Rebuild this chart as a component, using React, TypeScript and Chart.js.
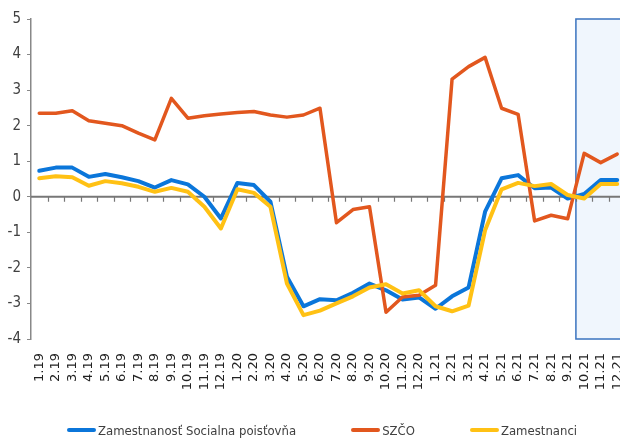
import React, { useEffect, useRef } from "react";
import { Chart, registerables } from "chart.js";

Chart.register(...registerables);

const months = [
  "1.19", "2.19", "3.19", "4.19", "5.19", "6.19", "7.19", "8.19", "9.19", "10.19", "11.19", "12.19",
  "1.20", "2.20", "3.20", "4.20", "5.20", "6.20", "7.20", "8.20", "9.20", "10.20", "11.20", "12.20",
  "1.21", "2.21", "3.21", "4.21", "5.21", "6.21", "7.21", "8.21", "9.21", "10.21", "11.21", "12.21",
];

const socialInsurance = [
  0.73, 0.82, 0.82, 0.56, 0.64, 0.55, 0.44, 0.26, 0.47, 0.35, 0.0, -0.61,
  0.39, 0.33, -0.14, -2.25, -3.08, -2.88, -2.91, -2.7, -2.44, -2.63, -2.89, -2.83,
  -3.15, -2.8, -2.55, -0.42, 0.52, 0.61, 0.24, 0.26, -0.05, 0.08, 0.47, 0.47,
];

const selfEmployed = [
  2.35, 2.35, 2.42, 2.14, 2.07, 2.0, 1.79, 1.6, 2.77, 2.21, 2.28, 2.33,
  2.37, 2.4, 2.3, 2.24, 2.3, 2.49, -0.73, -0.36, -0.28, -3.25, -2.82, -2.77,
  -2.49, 3.31, 3.66, 3.92, 2.49, 2.32, -0.68, -0.52, -0.62, 1.22, 0.96, 1.2,
];

const employees = [
  0.52, 0.58, 0.55, 0.31, 0.44, 0.38, 0.28, 0.14, 0.25, 0.14, -0.28, -0.89,
  0.21, 0.11, -0.28, -2.44, -3.33, -3.2, -3.0, -2.8, -2.55, -2.46, -2.72, -2.63,
  -3.08, -3.22, -3.06, -0.94, 0.21, 0.39, 0.3, 0.36, 0.05, -0.05, 0.36, 0.36,
];

const seriesNames = ["Zamestnanosť Socialna poisťovňa", "SZČO", "Zamestnanci"];
const seriesColors = ["#0B76DA", "#E2571E", "#FFC114"];

const yMin = -4;
const yMax = 5;
const yStep = 1;
const forecastStart = "10.21";

const NARROW = '"DejaVu Sans Condensed", "DejaVu Sans", sans-serif';

const backdropPlugin = {
  id: "backdrop",
  beforeDatasetsDraw(chart: any) {
    const { ctx, chartArea, scales } = chart;
    const x = scales.x;
    const y = scales.y;
    const half = (x.getPixelForValue(1) - x.getPixelForValue(0)) / 2;
    const idx = months.indexOf(forecastStart);
    const bx = x.getPixelForValue(idx) - half;
    const top = y.getPixelForValue(yMax);
    const bottom = y.getPixelForValue(yMin);
    const right = chartArea.right + 10;
    ctx.save();
    ctx.fillStyle = "#F0F6FD";
    ctx.fillRect(bx, top, right - bx, bottom - top);
    ctx.strokeStyle = "#3A73BF";
    ctx.lineWidth = 1.5;
    ctx.strokeRect(bx, top, right - bx, bottom - top);

    const y0 = y.getPixelForValue(0);
    ctx.strokeStyle = "#777777";
    ctx.lineWidth = 2;
    ctx.beginPath();
    ctx.moveTo(chartArea.left, y0);
    ctx.lineTo(chartArea.right, y0);
    ctx.stroke();

    ctx.lineWidth = 1.2;
    ctx.beginPath();
    for (let i = 1; i <= months.length; i++) {
      const tx = Math.round(x.getPixelForValue(i) - half) + 0.5;
      ctx.moveTo(tx, y0);
      ctx.lineTo(tx, y0 + 5);
    }
    ctx.stroke();
    ctx.restore();
  },
};

export default function App() {
  const ref = useRef<HTMLCanvasElement | null>(null);

  useEffect(() => {
    if (!ref.current) return;
    const values = [socialInsurance, selfEmployed, employees];
    const widths = [4, 3.5, 4];
    const orders = [3, 2, 1];
    const chart = new Chart(ref.current, {
      type: "line",
      data: {
        labels: months,
        datasets: values.map((v, i) => ({
          label: seriesNames[i],
          data: v,
          borderColor: seriesColors[i],
          backgroundColor: seriesColors[i],
          borderWidth: widths[i],
          pointRadius: 0,
          tension: 0,
          borderJoinStyle: "round" as const,
          borderCapStyle: "round" as const,
          order: orders[i],
        })),
      },
      options: {
        animation: false,
        responsive: false,
        maintainAspectRatio: false,
        devicePixelRatio: 1,
        layout: { padding: { top: 19, right: 15, left: 0, bottom: 0 } },
        plugins: {
          legend: { display: false },
          tooltip: { enabled: false },
        },
        scales: {
          x: {
            offset: true,
            grid: { display: false, drawTicks: false },
            border: { display: false },
            ticks: {
              autoSkip: false,
              maxRotation: 90,
              minRotation: 90,
              padding: 14,
              color: "#222222",
              font: { family: "DejaVu Sans", size: 13 },
            },
            afterFit(scale: any) {
              scale.height = 101;
            },
          },
          y: {
            min: yMin,
            max: yMax,
            ticks: {
              stepSize: yStep,
              padding: 6,
              color: "#404040",
              font: { family: NARROW, size: 15 },
            },
            grid: { drawOnChartArea: false, drawTicks: true, tickLength: 4, color: "#888888", lineWidth: 1 },
            border: { display: true, color: "#888888", width: 1.5 },
            afterFit(scale: any) {
              scale.width = 31;
            },
          },
        },
      },
      plugins: [backdropPlugin],
    });
    return () => chart.destroy();
  }, []);

  return (
    <div style={{ position: "absolute", left: 0, top: 0, width: 620, height: 440, overflow: "hidden", background: "#fff" }}>
      <canvas ref={ref} width={647} height={440} style={{ width: 647, height: 440, display: "block" }} />
      <div
        style={{
          position: "absolute",
          left: 67,
          top: 420,
          height: 20,
          display: "flex",
          alignItems: "center",
          gap: 55,
          fontFamily: NARROW,
          fontSize: 13,
          color: "#404040",
          whiteSpace: "nowrap",
        }}
      >
        {seriesNames.map((name, i) => (
          <div key={name} style={{ display: "flex", alignItems: "center" }}>
            <span style={{ display: "inline-block", width: 29, height: 4, borderRadius: 2, background: seriesColors[i], marginRight: 2 }} />
            <span>{name}</span>
          </div>
        ))}
      </div>
    </div>
  );
}
